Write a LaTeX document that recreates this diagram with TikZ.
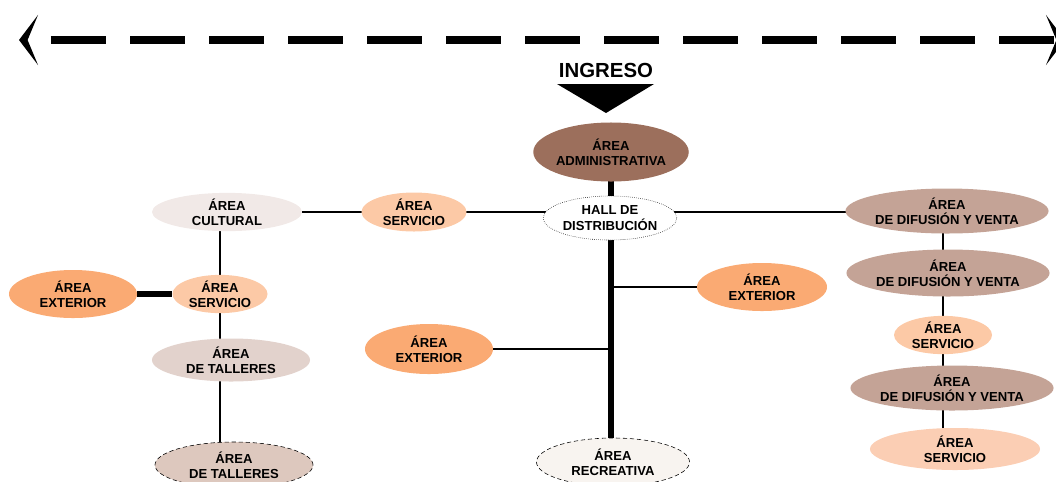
\documentclass[tikz,border=0pt]{standalone}
\usepackage{fontspec}
\setmainfont{Liberation Sans}
\usepackage{tikz}
\usetikzlibrary{arrows.meta,shapes.geometric,backgrounds}
\definecolor{admbrown}{RGB}{156,111,92}
\definecolor{difbrown}{RGB}{196,163,150}
\definecolor{tallerA}{RGB}{226,210,204}
\definecolor{tallerB}{RGB}{221,200,190}
\definecolor{cultpink}{RGB}{241,233,231}
\definecolor{servpeach}{RGB}{252,201,166}
\definecolor{servlight}{RGB}{251,206,180}
\definecolor{extorange}{RGB}{250,170,115}
\definecolor{recrwhite}{RGB}{248,244,240}

\begin{document}
\begin{tikzpicture}[x=0.025cm,y=-0.025cm,
  area/.style={ellipse,inner sep=0pt,align=center,font=\bfseries\fontsize{9.3pt}{10.9pt}\selectfont},
  link/.style={line width=0.065cm},
  spine/.style={line width=0.16cm}]
  \useasboundingbox (0,0) rectangle (1056,481);
  \clip (0,0) rectangle (1056,481);

  % acceso
  \coordinate (W) at (19,40);
  \coordinate (E) at (1065,40);
  \draw[line width=0.2cm,dash pattern=on 1.375cm off 0.6cm,dash phase=1.375cm,
    {Stealth[length=0.475cm,width=1.25cm,inset=0.26cm]}-{Stealth[length=0.475cm,width=1.25cm,inset=0.26cm]}] (W) -- (E);
  \node[font=\bfseries\fontsize{14.5pt}{14.5pt}\selectfont] (ingreso) at (606,70) {INGRESO};
  \fill (557,84) -- (654,84) -- (606,113) -- cycle;

  % zonas
  \node[area,fill=admbrown,minimum width=3.875cm,minimum height=1.475cm] (adm) at (611,152) {ÁREA\\ADMINISTRATIVA};
  \node[area,fill=white,draw,densely dotted,minimum width=3.25cm,minimum height=1.1cm] (hall) at (610,218) {HALL DE\\DISTRIBUCIÓN};
  \node[area,fill=servpeach,minimum width=2.625cm,minimum height=0.975cm] (servm) at (414,212) {ÁREA\\SERVICIO};
  \node[area,fill=cultpink,minimum width=3.75cm,minimum height=0.95cm] (cult) at (227,212) {ÁREA\\CULTURAL};
  \node[area,fill=servpeach,minimum width=2.375cm,minimum height=0.9cm] (servl) at (220,294) {ÁREA\\SERVICIO};
  \node[area,fill=extorange,minimum width=3.2cm,minimum height=1.2cm] (extl) at (73,294) {ÁREA\\EXTERIOR};
  \node[area,fill=tallerA,minimum width=3.95cm,minimum height=1.075cm] (tall1) at (231,360) {ÁREA\\DE TALLERES};
  \node[area,fill=tallerB,draw,densely dashed,minimum width=3.95cm,minimum height=1.15cm] (tall2) at (234,465) {ÁREA\\DE TALLERES};
  \node[area,fill=extorange,minimum width=3.25cm,minimum height=1.2cm] (extr) at (762,287) {ÁREA\\EXTERIOR};
  \node[area,fill=extorange,minimum width=3.2cm,minimum height=1.25cm] (extm) at (429,349) {ÁREA\\EXTERIOR};
  \node[area,fill=recrwhite,draw,densely dashed,minimum width=3.825cm,minimum height=1.2cm] (recr) at (613,462) {ÁREA\\RECREATIVA};
  \node[area,fill=difbrown,minimum width=4.225cm,minimum height=1.125cm] (dif1) at (947,211) {ÁREA\\DE DIFUSIÓN Y VENTA};
  \node[area,fill=difbrown,minimum width=4.25cm,minimum height=1.175cm] (dif2) at (948,273) {ÁREA\\DE DIFUSIÓN Y VENTA};
  \node[area,fill=servpeach,minimum width=2.45cm,minimum height=0.9cm] (servr) at (943,335) {ÁREA\\SERVICIO};
  \node[area,fill=difbrown,minimum width=4.25cm,minimum height=1.125cm] (dif3) at (952,388) {ÁREA\\DE DIFUSIÓN Y VENTA};
  \node[area,fill=servlight,minimum width=4.25cm,minimum height=1.05cm] (servr2) at (955,449) {ÁREA\\SERVICIO};

  % conexiones
  \begin{scope}[on background layer]
    \draw[spine] (adm.center) -- (adm.center |- recr.center);
    \draw[link] (cult) -- (cult -| dif1);
    \draw[link] (servl |- cult) -- (servl |- tall2);
    \draw[line width=0.14cm] (extl) -- (servl);
    \draw[link] (extr) -- (extr -| adm);
    \draw[link] (extm) -- (extm -| adm);
    \draw[link] (servr |- dif1) -- (servr |- servr2);
  \end{scope}
\end{tikzpicture}
\end{document}
